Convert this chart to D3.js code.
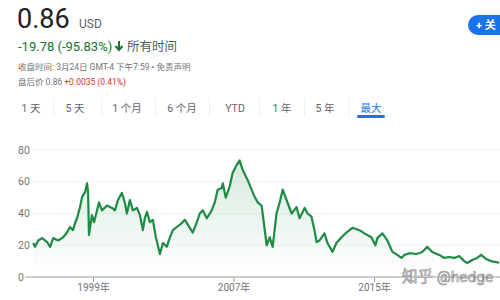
<!DOCTYPE html>
<html>
<head>
<meta charset="utf-8">
<script src="https://cdn.jsdelivr.net/npm/d3@7"></script>
<style>
  body { margin: 0; background: #fff; }
  svg { display: block; font-family: Roboto, "Noto Sans CJK SC", sans-serif; }
</style>
</head>
<body>
<div class="chart"></div>
<script>
var width = 500;
var height = 300;

// price history (decimal year, USD)
var years = [1995.59, 1995.70, 1995.88, 1996.10, 1996.39, 1996.56, 1996.73, 1997.01, 1997.30, 1997.52,
    1997.69, 1997.86, 1997.98, 1998.09, 1998.26, 1998.38, 1998.55, 1998.66, 1998.72, 1998.77,
    1998.94, 1999.06, 1999.23, 1999.34, 1999.51, 1999.80, 2000.08, 2000.25, 2000.42, 2000.65,
    2000.82, 2000.93, 2001.10, 2001.27, 2001.50, 2001.67, 2001.84, 2001.95, 2002.07, 2002.24,
    2002.41, 2002.58, 2002.69, 2002.81, 2002.98, 2003.20, 2003.38, 2003.55, 2003.77, 2004.06,
    2004.23, 2004.40, 2004.68, 2004.91, 2005.08, 2005.25, 2005.48, 2005.76, 2005.93, 2006.10,
    2006.33, 2006.39, 2006.56, 2006.78, 2006.95, 2007.18, 2007.35, 2007.52, 2007.81, 2007.92,
    2008.20, 2008.38, 2008.60, 2008.66, 2008.89, 2009.06, 2009.23, 2009.45, 2009.63, 2009.80,
    2010.02, 2010.31, 2010.59, 2010.76, 2011.05, 2011.22, 2011.44, 2011.61, 2011.73, 2011.90,
    2012.18, 2012.35, 2012.64, 2012.86, 2013.15, 2013.43, 2013.77, 2014.17, 2014.45, 2014.85,
    2015.08, 2015.19, 2015.48, 2015.76, 2016.05, 2016.33, 2016.56, 2016.73, 2017.01, 2017.41,
    2017.75, 2018.03, 2018.32, 2018.72, 2019.00, 2019.28, 2019.57, 2019.85, 2020.14, 2020.31,
    2020.59, 2020.88, 2021.10, 2021.39, 2021.67, 2021.95, 2022.13];
var prices = [21.4, 19, 23, 24.5, 22, 19, 24.5, 23, 25, 28,
    31.5, 29.5, 34, 37, 44, 50.5, 53.5, 59, 53.5, 26.5,
    39, 34.5, 42, 47, 42, 45, 43.5, 42, 48.5, 53,
    46.5, 40, 48.5, 42, 43.5, 39, 29.5, 37, 41, 34.5,
    36, 25, 20, 14.5, 21.4, 19, 25, 29.5, 31.5, 34,
    36, 33, 28, 34.5, 40, 42, 37, 42, 47, 55,
    56, 59, 50, 57, 65.5, 70.5, 73.5, 67.5, 61, 58,
    50.5, 47, 45, 40, 20, 25, 19, 40, 47, 55,
    48.5, 40, 44, 37, 43.5, 40, 38, 29.5, 22, 23,
    27.5, 21.4, 15.8, 21.4, 25, 28, 31, 29.5, 27.5, 25,
    20, 24.5, 27.5, 23, 15.8, 13.9, 12, 13.9, 15, 14.5,
    15.8, 19, 15.8, 13.9, 12, 12.6, 12, 13.2, 10, 8.8,
    10.7, 12, 13.9, 11.3, 10, 9.4, 9];

var yTicks = [0, 20, 40, 60, 80];
var xTicks = [1999, 2007, 2015];
var tabs = ["1 天", "5 天", "1 个月", "6 个月", "YTD", "1 年", "5 年", "最大"];
var tabCenters = [31, 75, 127, 182, 235, 282, 325, 371];

var green = "#1f8a45";

var svg = d3.select(".chart")
    .append("svg")
    .attr("width", width)
    .attr("height", height);

// header
svg.append("text").attr("x", 17).attr("y", 28)
    .attr("font-size", 27).attr("fill", "#202124").text("0.86");
svg.append("text").attr("x", 79).attr("y", 28)
    .attr("font-size", 12).attr("fill", "#5f6368").text("USD");

svg.append("text").attr("x", 18).attr("y", 51)
    .attr("font-size", 13).attr("fill", "#137333").text("-19.78 (-95.83%)");
svg.append("path")
    .attr("d", "M119,41 L119,49 M115.5,46 L119,50 L122.5,46")
    .attr("stroke", "#137333").attr("stroke-width", 2).attr("fill", "none");
svg.append("text").attr("x", 127).attr("y", 51)
    .attr("font-size", 12.5).attr("fill", "#4d5f55").text("所有时间");

svg.append("text").attr("x", 18).attr("y", 70)
    .attr("font-size", 8.5).attr("fill", "#70757a")
    .text("收盘时间: 3月24日 GMT-4 下午7:59 • 免责声明");
var after = svg.append("text").attr("x", 18).attr("y", 85)
    .attr("font-size", 8.5).attr("fill", "#70757a");
after.append("tspan").text("盘后价 0.86 ");
after.append("tspan").attr("fill", "#d93025").text("+0.0035 (0.41%)");

// follow button, running off the right edge
svg.append("rect").attr("x", 468).attr("y", 15).attr("width", 60).attr("height", 20)
    .attr("rx", 10).attr("fill", "#1a73e8");
svg.append("text").attr("x", 476).attr("y", 29)
    .attr("font-size", 11).attr("fill", "#fff").attr("font-weight", "bold").text("+ 关");

// range tabs
svg.selectAll(".tab")
    .data(tabs)
    .enter()
    .append("text")
    .attr("class", "tab")
    .attr("x", function(d, i) { return tabCenters[i]; })
    .attr("y", 112)
    .attr("text-anchor", "middle")
    .attr("font-size", 10.5)
    .attr("fill", function(d, i) { return i === tabs.length - 1 ? "#1a73e8" : "#5f6368"; })
    .text(function(d) { return d; });

svg.selectAll(".tab-sep")
    .data(tabCenters.slice(1))
    .enter()
    .append("line")
    .attr("class", "tab-sep")
    .attr("x1", function(d, i) { return (tabCenters[i] + d) / 2 + 1; })
    .attr("x2", function(d, i) { return (tabCenters[i] + d) / 2 + 1; })
    .attr("y1", 98).attr("y2", 117)
    .attr("stroke", "#eceef0");

svg.append("rect").attr("x", 357).attr("y", 115).attr("width", 28).attr("height", 3)
    .attr("rx", 1.5).attr("fill", "#1a73e8");

// chart
var xScale = d3.scaleLinear()
    .domain([1995, 2023])
    .range([22.75, 514.5]);

var yScale = d3.scaleLinear()
    .domain([0, 80])
    .range([277, 150]);

var points = years.map(function(y, i) { return {t: y, v: prices[i]}; });

svg.selectAll(".grid")
    .data(yTicks.slice(1))
    .enter()
    .append("line")
    .attr("class", "grid")
    .attr("x1", 33).attr("x2", width)
    .attr("y1", function(d) { return yScale(d); })
    .attr("y2", function(d) { return yScale(d); })
    .attr("stroke", "#f1f3f4");

svg.selectAll(".ylabel")
    .data(yTicks)
    .enter()
    .append("text")
    .attr("class", "ylabel")
    .attr("x", 18)
    .attr("y", function(d) { return yScale(d) + 3.5; })
    .attr("font-size", 10.5)
    .attr("fill", "#70757a")
    .text(function(d) { return d; });

var defs = svg.append("defs");
var grad = defs.append("linearGradient")
    .attr("id", "fade")
    .attr("gradientUnits", "userSpaceOnUse")
    .attr("x1", 0).attr("x2", 0)
    .attr("y1", yScale(75)).attr("y2", yScale(0));
grad.append("stop").attr("offset", 0).attr("stop-color", green).attr("stop-opacity", 0.18);
grad.append("stop").attr("offset", 1).attr("stop-color", green).attr("stop-opacity", 0);

svg.append("path")
    .datum(points)
    .attr("fill", "url(#fade)")
    .attr("d", d3.area()
        .x(function(d) { return xScale(d.t); })
        .y0(yScale(0))
        .y1(function(d) { return yScale(d.v); }));

// x axis
var xAxis = svg.append("g")
    .attr("transform", `translate(0,${yScale(0)})`)
    .call(d3.axisBottom(xScale)
        .tickValues(xTicks)
        .tickSize(5)
        .tickFormat(function(d) { return d + "年"; }));
xAxis.select(".domain").remove();
xAxis.selectAll(".tick line").attr("stroke", "#9aa0a6");
xAxis.selectAll(".tick text")
    .attr("fill", "#70757a")
    .attr("font-size", 10)
    .attr("font-family", "Roboto, 'Noto Sans CJK SC', sans-serif")
    .attr("dy", "0.6em");
svg.append("line")
    .attr("x1", 25).attr("x2", width)
    .attr("y1", yScale(0)).attr("y2", yScale(0))
    .attr("stroke", "#9aa0a6");

svg.append("path")
    .datum(points)
    .attr("fill", "none")
    .attr("stroke", green)
    .attr("stroke-width", 2.2)
    .attr("stroke-linejoin", "round")
    .attr("d", d3.line()
        .x(function(d) { return xScale(d.t); })
        .y(function(d) { return yScale(d.v); }));

// watermark
svg.append("text").attr("x", 402).attr("y", 282)
    .attr("font-size", 15.5).attr("fill", "#e6e6e6")
    .attr("stroke", "#8a8a8a").attr("stroke-width", 0.6)
    .text("知乎 @hedge");
</script>
</body>
</html>
